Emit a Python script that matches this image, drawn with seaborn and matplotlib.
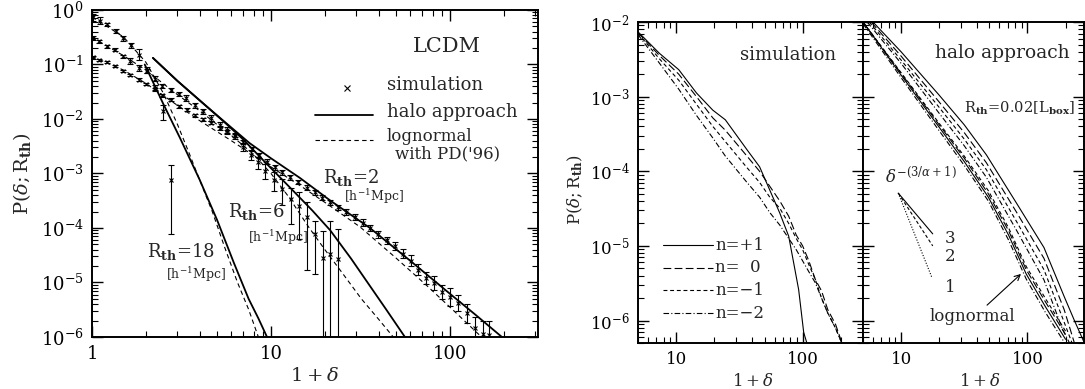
import numpy as np
import matplotlib
matplotlib.use('Agg')
import matplotlib.pyplot as plt
from matplotlib.ticker import LogLocator, NullFormatter
import seaborn as sns

sns.set_style('ticks')
plt.rcParams['font.family'] = ['DejaVu Serif']
plt.rcParams['mathtext.fontset'] = 'dejavuserif'

# ---------------- left panel: LCDM ----------------
# simulation points, R_th = 2
r2_x = [1.01, 1.10, 1.22, 1.34, 1.49, 1.64, 1.82, 2.01, 2.24, 2.46, 2.75, 3.05, 3.39,
        3.78, 4.17, 4.64, 5.17, 5.70, 6.27, 7.0, 7.8, 8.6, 9.46, 10.5, 11.5, 12.8, 14.2,
        15.8, 17.6, 19.2, 21.4, 23.8, 26.4, 29.5, 32.8, 35.7, 39.8, 44.3, 49.3, 54.4,
        60.3, 66.5, 73.4, 81.3, 90.0, 100, 111, 124, 138, 152, 166]
r2_y = [0.135, 0.123, 0.111, 0.093, 0.077, 0.065, 0.053, 0.044, 0.036, 0.027, 0.0226,
        0.017, 0.0148, 0.0117, 0.0098, 0.0085, 0.0068, 0.0058, 0.0050, 3.8e-3, 2.8e-3,
        2.15e-3, 1.65e-3, 1.29e-3, 1.05e-3, 8.5e-4, 6.9e-4, 5.5e-4, 4.5e-4, 3.6e-4,
        2.95e-4, 2.4e-4, 1.95e-4, 1.6e-4, 1.26e-4, 1.0e-4, 7.6e-5, 5.9e-5, 4.7e-5,
        3.4e-5, 2.5e-5, 1.7e-5, 1.2e-5, 9.8e-6, 6.8e-6, 5.4e-6, 4.2e-6, 2.7e-6, 1.45e-6,
        1.12e-6, 1.1e-6]
r2_err = [0.03, 0.02, 0.02, 0.02, 0.02, 0.02, 0.02, 0.02, 0.02, 0.02, 0.03, 0.03, 0.03,
          0.03, 0.03, 0.03, 0.03, 0.03, 0.03, 0.04, 0.04, 0.04, 0.04, 0.04, 0.04, 0.04,
          0.04, 0.05, 0.05, 0.05, 0.05, 0.05, 0.05, 0.06, 0.06, 0.06, 0.07, 0.07, 0.08,
          0.09, 0.10, 0.10, 0.11, 0.12, 0.13, 0.16, 0.14, 0.17, 0.20, 0.25, 0.25]

# simulation points, R_th = 6
r6_x = [1.01, 1.10, 1.22, 1.34, 1.49, 1.64, 1.82, 2.02, 2.24, 2.46, 2.75, 3.05, 3.37,
        3.75, 4.17, 4.64, 5.17, 5.70, 6.27, 7.0, 7.7, 8.5, 9.3, 10.4, 11.5, 12.9, 14.3,
        15.8, 17.6, 19.5, 21.4, 23.8]
r6_y = [0.306, 0.266, 0.215, 0.187, 0.141, 0.117, 0.086, 0.075, 0.055, 0.040, 0.0345,
        0.0288, 0.0244, 0.0178, 0.0138, 0.0104, 0.0079, 0.0063, 0.0049, 3.1e-3, 2.2e-3,
        1.6e-3, 1.12e-3, 7.6e-4, 5.3e-4, 3.4e-4, 2.55e-4, 1.6e-4, 7.6e-5, 2.8e-5,
        3.4e-5, 2.7e-5]
r6_err_hi = [0.03, 0.03, 0.03, 0.03, 0.03, 0.05, 0.05, 0.04, 0.04, 0.04, 0.04, 0.04,
             0.05, 0.05, 0.05, 0.05, 0.05, 0.06, 0.06, 0.07, 0.08, 0.10, 0.12, 0.15,
             0.18, 0.20, 0.25, 0.27, 0.25, 0.50, 0.60, 0.55]
r6_err_lo = [0.03, 0.03, 0.03, 0.03, 0.03, 0.05, 0.05, 0.04, 0.04, 0.04, 0.04, 0.04,
             0.05, 0.05, 0.05, 0.05, 0.05, 0.06, 0.06, 0.08, 0.09, 0.12, 0.15, 0.20,
             0.30, 0.45, 0.60, 0.98, 0.73, 3.0, 3.0, 3.0]

# simulation points, R_th = 18
r18_x = [1.01, 1.11, 1.22, 1.36, 1.49, 1.66, 1.83, 2.04, 2.24, 2.49, 2.76]
r18_y = [0.73, 0.64, 0.55, 0.41, 0.30, 0.225, 0.151, 0.080, 0.037, 0.0138, 7.6e-4]
r18_err_hi = [0.06, 0.07, 0.03, 0.03, 0.04, 0.05, 0.10, 0.05, 0.06, 0.12, 0.27]
r18_err_lo = [0.06, 0.07, 0.03, 0.03, 0.04, 0.05, 0.10, 0.05, 0.06, 0.16, 1.00]

# halo approach curves
halo2_x = [2.19, 3.0, 4.0, 5.5, 7.6, 10, 14.5, 21.4, 35.7, 60, 100, 140, 195]
halo2_y = [0.132, 0.050, 0.0219, 8.9e-3, 3.6e-3, 1.9e-3, 8.3e-4, 3.2e-4, 1.0e-4, 2.5e-5,
           6.2e-6, 2.5e-6, 1.0e-6]
halo6_x = [2.19, 3.0, 4.0, 5.5, 7.0, 9.06, 13, 17, 21.4, 28, 35, 44, 56]
halo6_y = [0.132, 0.050, 0.0219, 8.7e-3, 4.2e-3, 1.74e-3, 5.2e-4, 2.1e-4, 9.1e-5, 2.75e-5,
           9.5e-6, 3.2e-6, 1.0e-6]
halo18_x = [1.97, 2.5, 3.1, 4.0, 5.0, 6.2, 7.5, 8.5, 9.5]
halo18_y = [0.10, 0.019, 4.5e-3, 7.6e-4, 1.4e-4, 2.3e-5, 5e-6, 2.2e-6, 1.0e-6]

# lognormal with PD('96)
logn2_x = [1, 1.5, 2, 3, 4, 6, 10, 15, 20, 31.4, 50, 75, 109, 150]
logn2_y = [0.141, 0.079, 0.045, 0.0178, 9.3e-3, 4.0e-3, 1.32e-3, 5.6e-4, 2.95e-4, 1.05e-4,
           2.8e-5, 8.5e-6, 2.7e-6, 1.0e-6]
logn6_x = [1, 1.5, 2, 3, 4, 5, 6, 8, 10, 12.5, 16.2, 20, 25, 32, 40, 48.2]
logn6_y = [0.316, 0.145, 0.079, 0.028, 0.0141, 7.9e-3, 5.0e-3, 2.24e-3, 1.0e-3, 3.8e-4,
           1.05e-4, 4.0e-5, 1.5e-5, 5e-6, 2.1e-6, 1.0e-6]
logn18_x = [1.0, 1.5, 2.0, 2.5, 3.0, 3.5, 4.0, 4.7, 5.5, 6.5, 7.5, 8.5]
logn18_y = [0.75, 0.32, 0.11, 0.03, 8e-3, 2.3e-3, 7.5e-4, 2e-4, 4.5e-5, 1e-5, 3.2e-6, 1e-6]

# ---------------- middle panel: simulation, scale-free ----------------
sim_x = [5.0, 7.4, 10.5, 14.5, 19.5, 24.5, 36.3, 45.7, 55, 66, 77.6, 89, 100, 112, 126,
         141, 158, 182, 209]
sim_p1_x = [5.0, 7.4, 10.5, 14.5, 19.5, 24.5, 36.3, 45.7, 55, 66, 77.6, 85, 93, 102, 110]
sim_p1_y = [7.4e-3, 3.8e-3, 2.3e-3, 1.12e-3, 6.6e-4, 4.9e-4, 1.95e-4, 1.15e-4, 5.6e-5,
            2.75e-5, 1.35e-5, 5.9e-6, 2.6e-6, 6.9e-7, 4.5e-7]
sim_0_y = [7.2e-3, 3.55e-3, 2.0e-3, 1.0e-3, 5.2e-4, 3.55e-4, 1.6e-4, 1.0e-4, 6.3e-5, 4.0e-5,
           2.5e-5, 1.4e-5, 1.0e-5, 6.3e-6, 3.55e-6, 2.5e-6, 1.4e-6, 8.9e-7, 4.5e-7]
sim_m1_y = [7.1e-3, 3.2e-3, 1.66e-3, 7.9e-4, 4.0e-4, 2.5e-4, 1.12e-4, 7.1e-5, 4.5e-5,
            3.2e-5, 2.0e-5, 1.26e-5, 8.9e-6, 5.6e-6, 3.55e-6, 2.0e-6, 1.26e-6, 7.9e-7, 4.5e-7]
sim_m2_y = [6.8e-3, 2.8e-3, 1.26e-3, 5.6e-4, 2.8e-4, 1.6e-4, 7.1e-5, 4.5e-5, 2.8e-5, 1.9e-5,
            1.26e-5, 8.9e-6, 6.3e-6, 4.5e-6, 3.2e-6, 2.0e-6, 1.26e-6, 7.9e-7, 4.5e-7]

# ---------------- right panel: halo approach ----------------
ln_x = [5.0, 10, 20, 31.6, 49, 70.8, 97.7, 138, 200]
ln_p1_y = [1.0e-2, 1.95e-3, 3.9e-4, 1.35e-4, 4.5e-5, 1.4e-5, 4.2e-6, 1.55e-6, 5.6e-7]
ln_0_y = [1.0e-2, 2.05e-3, 4.2e-4, 1.5e-4, 5.0e-5, 1.6e-5, 4.8e-6, 1.8e-6, 6.5e-7]
ln_m1_y = [1.0e-2, 2.1e-3, 4.4e-4, 1.6e-4, 5.5e-5, 1.75e-5, 5.3e-6, 2.0e-6, 7.2e-7]
ln_m2_y = [9.5e-3, 1.8e-3, 3.5e-4, 1.2e-4, 4.0e-5, 1.2e-5, 3.6e-6, 1.3e-6, 4.8e-7]

ha_p1_x = [6.0, 10, 20, 31.6, 47.3, 82.2, 135, 195, 235, 282]
ha_p1_y = [1.0e-2, 4.0e-3, 1.05e-3, 4.2e-4, 1.66e-4, 3.7e-5, 9.5e-6, 2.1e-6, 1.0e-6, 5e-7]
ha_0_x = [5.8, 10, 20, 31.6, 47.3, 82.2, 135, 195, 235]
ha_0_y = [1.0e-2, 3.5e-3, 8.5e-4, 3.3e-4, 1.3e-4, 2.8e-5, 6.8e-6, 1.4e-6, 5e-7]
ha_m1_x = [5.6, 10, 20, 31.6, 47.3, 82.2, 135, 195, 225]
ha_m1_y = [1.0e-2, 3.1e-3, 7.2e-4, 2.7e-4, 1.05e-4, 2.1e-5, 4.8e-6, 9.5e-7, 5e-7]
ha_m2_x = [5.4, 10, 20, 31.6, 47.3, 82.2, 135, 190, 215]
ha_m2_y = [1.0e-2, 2.8e-3, 6.0e-4, 2.2e-4, 8.3e-5, 1.6e-5, 3.5e-6, 7.5e-7, 5e-7]

# slope guides delta^-(3/alpha+1) for alpha = 3, 2, 1
guide_x0, guide_y0 = 9.5, 5.1e-5
guide_end_x = [17.8, 17.8, 17.5]
guide_end_y = [1.45e-5, 1.0e-5, 3.8e-6]
guide_labels = ['3', '2', '1']


def line(ax, x, y, ls='-', lw=0.8):
    sns.lineplot(x=x, y=y, ax=ax, color='k', lw=lw, linestyle=ls, sort=False,
                 estimator=None, legend=False)


def points(ax, x, y, e_lo, e_hi):
    x = np.array(x); y = np.array(y)
    lo = y - y * 10.0 ** (-np.array(e_lo))
    hi = y * 10.0 ** np.array(e_hi) - y
    ax.errorbar(x, y, yerr=[lo, hi], fmt='x', ms=3.5, mew=0.8, color='k', ecolor='k',
                elinewidth=0.8, capsize=2.5, capthick=0.8)


def style(ax, size):
    ax.set_xscale('log')
    ax.set_yscale('log')
    ax.tick_params(which='both', direction='in', top=True, right=True, colors='k',
                   labelsize=size)
    ax.tick_params(which='major', length=8, width=1.0, pad=6)
    ax.tick_params(which='minor', length=4, width=0.8)
    ax.xaxis.set_minor_locator(LogLocator(base=10, subs=np.arange(2, 10), numticks=100))
    ax.yaxis.set_minor_locator(LogLocator(base=10, subs=np.arange(2, 10), numticks=100))
    ax.xaxis.set_minor_formatter(NullFormatter())
    ax.yaxis.set_minor_formatter(NullFormatter())
    for s in ax.spines.values():
        s.set_linewidth(1.4)
        s.set_color('k')


fig = plt.figure(figsize=(10.85, 3.89), dpi=100)
ax1 = fig.add_axes([0.0848, 0.1337, 0.411, 0.8406])
ax2 = fig.add_axes([0.588, 0.1183, 0.2074, 0.825])
ax3 = fig.add_axes([0.7954, 0.1183, 0.2037, 0.825])

dash = (0, (4, 3))

# left panel
style(ax1, 13)
points(ax1, r2_x, r2_y, r2_err, r2_err)
points(ax1, r6_x, r6_y, r6_err_lo, r6_err_hi)
points(ax1, r18_x, r18_y, r18_err_lo, r18_err_hi)
line(ax1, halo2_x, halo2_y, '-', 1.3)
line(ax1, halo6_x, halo6_y, '-', 1.3)
line(ax1, halo18_x, halo18_y, '-', 1.3)
line(ax1, logn2_x, logn2_y, dash, 0.8)
line(ax1, logn6_x, logn6_y, dash, 0.8)
line(ax1, logn18_x, logn18_y, dash, 0.8)
ax1.set_xlim(1, 310)
ax1.set_ylim(1e-6, 1)
ax1.set_xticks([1, 10, 100])
ax1.set_xticklabels(['1', '10', '100'])
ax1.set_xlabel(r'$1+\delta$', fontsize=14)
ax1.set_ylabel(r'P$(\delta;$R$_{\mathbf{th}})$', fontsize=14)
ax1.xaxis.set_label_coords(0.5, -0.092)
ax1.yaxis.set_label_coords(-0.132, 0.5)

t = ax1.transAxes
ax1.text(0.796, 0.887, 'LCDM', transform=t, fontsize=15, ha='center', va='center')
ax1.plot([0.572], [0.761], 'x', color='k', ms=4, mew=0.8, transform=t)
ax1.text(0.661, 0.771, 'simulation', transform=t, fontsize=13, va='center')
ax1.plot([0.500, 0.630], [0.679, 0.679], color='k', lw=1.3, transform=t)
ax1.text(0.661, 0.688, 'halo approach', transform=t, fontsize=13, va='center')
ax1.plot([0.500, 0.630], [0.602, 0.602], color='k', lw=0.8, ls=dash, transform=t)
ax1.text(0.661, 0.612, 'lognormal', transform=t, fontsize=12, va='center')
ax1.text(0.679, 0.560, "with PD('96)", transform=t, fontsize=12, va='center')
ax1.text(0.518, 0.487, r'R$_{\mathbf{th}}$=2', transform=t, fontsize=13, va='center')
ax1.text(0.565, 0.430, r'[h$^{-1}$Mpc]', transform=t, fontsize=9, va='center')
ax1.text(0.305, 0.385, r'R$_{\mathbf{th}}$=6', transform=t, fontsize=13, va='center')
ax1.text(0.350, 0.305, r'[h$^{-1}$Mpc]', transform=t, fontsize=9, va='center')
ax1.text(0.123, 0.260, r'R$_{\mathbf{th}}$=18', transform=t, fontsize=13, va='center')
ax1.text(0.166, 0.190, r'[h$^{-1}$Mpc]', transform=t, fontsize=9, va='center')

# middle panel
style(ax2, 12)
line(ax2, sim_p1_x, sim_p1_y, '-')
line(ax2, sim_x, sim_0_y, (0, (7, 3)))
line(ax2, sim_x, sim_m1_y, (0, (3.5, 2.5)))
line(ax2, sim_x, sim_m2_y, (0, (5, 2, 1, 2)))
ax2.set_xlim(5, 300)
ax2.set_ylim(5e-7, 1e-2)
ax2.set_xticks([10, 100])
ax2.set_xticklabels(['10', '100'])
ax2.set_xlabel(r'$1+\delta$', fontsize=12)
ax2.set_ylabel(r'P$(\delta;$R$_{\mathbf{th}})$', fontsize=12)
ax2.xaxis.set_label_coords(0.511, -0.093)
ax2.yaxis.set_label_coords(-0.236, 0.477)
t = ax2.transAxes
ax2.text(0.453, 0.897, 'simulation', transform=t, fontsize=13, va='center')
leg_styles = ['-', (0, (7, 3)), (0, (3.5, 2.5)), (0, (5, 2, 1, 2))]
leg_labels = ['n=+1', 'n=  0', 'n=\u22121', 'n=\u22122']
leg_y = [0.305, 0.234, 0.165, 0.093]
for ls, lab, yy in zip(leg_styles, leg_labels, leg_y):
    ax2.plot([0.111, 0.333], [yy, yy], color='k', lw=0.8, ls=ls, transform=t)
    ax2.text(0.342, yy, lab, transform=t, fontsize=12, va='center')

# right panel
style(ax3, 12)
line(ax3, ln_x, ln_p1_y, '-')
line(ax3, ln_x, ln_0_y, (0, (7, 3)))
line(ax3, ln_x, ln_m1_y, (0, (3.5, 2.5)))
line(ax3, ln_x, ln_m2_y, (0, (5, 2, 1, 2)))
line(ax3, ha_p1_x, ha_p1_y, '-')
line(ax3, ha_0_x, ha_0_y, (0, (7, 3)))
line(ax3, ha_m1_x, ha_m1_y, (0, (3.5, 2.5)))
line(ax3, ha_m2_x, ha_m2_y, (0, (5, 2, 1, 2)))
guide_styles = ['-', (0, (3, 2)), (0, (1, 1.5))]
for ex, ey, ls, lab in zip(guide_end_x, guide_end_y, guide_styles, guide_labels):
    line(ax3, [guide_x0, ex], [guide_y0, ey], ls, 0.8)
ax3.set_xlim(5, 280)
ax3.set_ylim(5e-7, 1e-2)
ax3.set_xticks([10, 100])
ax3.set_xticklabels(['10', '100'])
ax3.set_yticklabels([])
ax3.set_xlabel(r'$1+\delta$', fontsize=12)
ax3.set_ylabel('')
ax3.xaxis.set_label_coords(0.529, -0.093)
t = ax3.transAxes
ax3.text(0.326, 0.903, 'halo approach', transform=t, fontsize=13.5, va='center')
ax3.text(0.455, 0.732, r'R$_{\mathbf{th}}$=0.02[L$_{\mathbf{box}}$]', transform=t,
         fontsize=10.5, va='center')
ax3.text(0.10, 0.52, r'$\delta^{-(3/\alpha+1)}$', transform=t, fontsize=12, va='center')
for lab, yy in zip(guide_labels, [0.327, 0.268, 0.174]):
    ax3.text(0.371, yy, lab, transform=t, fontsize=12, va='center')
ax3.text(0.303, 0.081, 'lognormal', transform=t, fontsize=12, va='center')
ax3.annotate('', xy=(0.724, 0.221), xytext=(0.552, 0.112), xycoords=t, textcoords=t,
             arrowprops=dict(arrowstyle='->', color='k', lw=0.8))

fig.savefig('out.png', dpi=100)
